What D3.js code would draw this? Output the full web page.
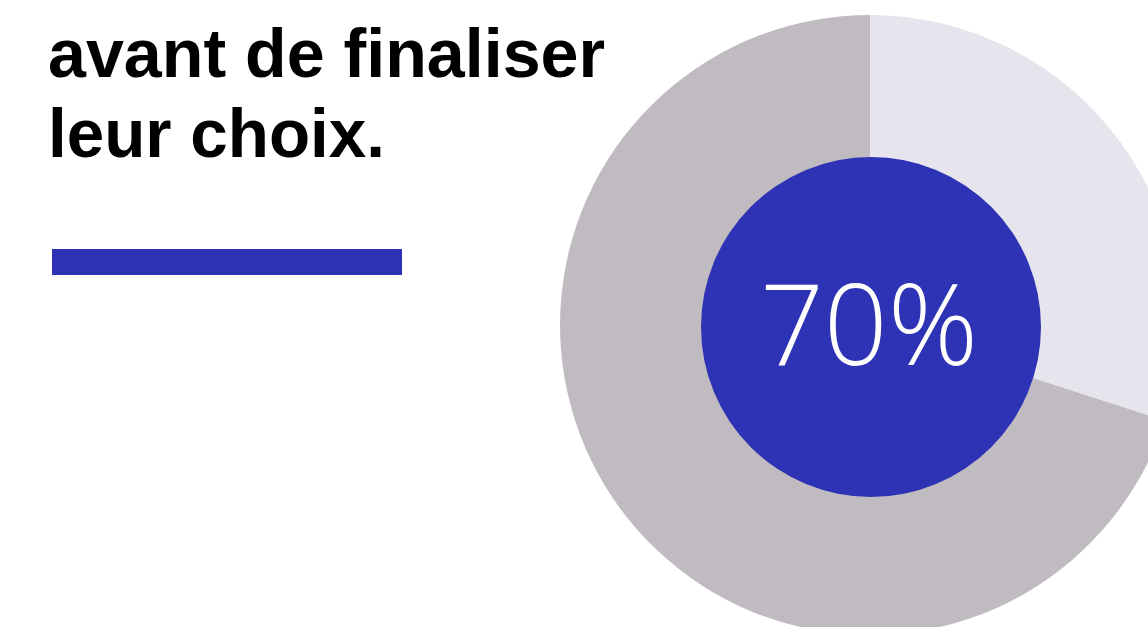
<!DOCTYPE html>
<html>
<head>
<meta charset="utf-8">
<script src="https://cdn.jsdelivr.net/npm/d3@7"></script>
<style>
  html, body { margin: 0; padding: 0; background: #ffffff; overflow: hidden; }
  svg { display: block; }
</style>
</head>
<body>
<svg id="chart" width="1148" height="627"></svg>
<script>
// Data
const categories = ["reste", "part"];
const values = [30, 70];
const centerLabel = "70%";
const textLines = ["avant de finaliser", "leur choix."];

const width = 1148, height = 627;
const svg = d3.select("#chart");

// Left text
svg.append("g")
  .selectAll("text")
  .data(textLines)
  .join("text")
  .attr("x", 48)
  .attr("y", (d, i) => 77 + i * 80)
  .attr("font-family", "'Liberation Sans', Arial, sans-serif")
  .attr("font-weight", "bold")
  .attr("font-size", 69)
  .attr("fill", "#000")
  .attr("textLength", (d, i) => i === 0 ? 557 : 337)
  .attr("lengthAdjust", "spacingAndGlyphs")
  .text(d => d);

// Blue bar
svg.append("rect")
  .attr("x", 52).attr("y", 249)
  .attr("width", 350).attr("height", 26)
  .attr("fill", "#2e33b5");

// Pie
const cx = 870, cy = 325;
const color = d3.scaleOrdinal().domain(categories).range(["#e6e4ec", "#c0bbc1"]);
const pie = d3.pie().sort(null).value(d => d)(values);
const arc = d3.arc().innerRadius(0).outerRadius(310);

const g = svg.append("g").attr("transform", `translate(${cx},${cy})`);
g.selectAll("path")
  .data(pie)
  .join("path")
  .attr("d", arc)
  .attr("fill", (d, i) => color(categories[i]));

// Inner blue circle
g.append("circle")
  .attr("cx", 1).attr("cy", 2)
  .attr("r", 170)
  .attr("fill", "#2e33b5");

g.append("text")
  .attr("x", -1)
  .attr("y", 40)
  .attr("text-anchor", "middle")
  .attr("font-family", "'Open Sans', sans-serif")
  .attr("font-weight", 300)
  .attr("font-size", 112)
  .attr("fill", "#ffffff")
  .text(centerLabel);
</script>
</body>
</html>
